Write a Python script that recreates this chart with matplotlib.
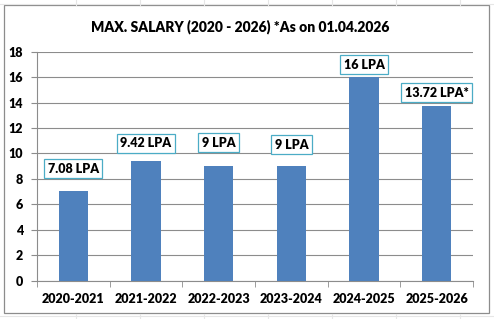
import matplotlib
matplotlib.use("Agg")
import matplotlib.pyplot as plt
from matplotlib.patches import Rectangle
from matplotlib.lines import Line2D
import numpy as np

categories = ["2020-2021", "2021-2022", "2022-2023", "2023-2024", "2024-2025", "2025-2026"]
values = [7.08, 9.42, 9, 9, 16, 13.72]
labels = ["7.08 LPA", "9.42 LPA", "9 LPA", "9 LPA", "16 LPA", "13.72 LPA*"]
title = "MAX. SALARY (2020 - 2026) *As on 01.04.2026"
yticks = [0, 2, 4, 6, 8, 10, 12, 14, 16, 18]

# layout: label box centre heights (data units)
label_y = [8.78, 10.8, 10.85, 10.67, 16.96, 14.78]

plt.rcParams['font.family'] = ['Lato', 'DejaVu Sans']
W, H = 494, 319
fig = plt.figure(figsize=(W/100, H/100), dpi=100)
fig.patch.set_facecolor('white')

# faint spreadsheet grid in background
for xv in [76, 140, 204, 268, 332, 396, 460]:
    fig.add_artist(Line2D([xv/W, xv/W], [1-5/H, 1], color='#e6e6e6', lw=0.8))
    fig.add_artist(Line2D([xv/W, xv/W], [0, 1-314/H], color='#e6e6e6', lw=0.8))
for yv in [4, 316]:
    fig.add_artist(Line2D([0, 1], [1-yv/H, 1-yv/H], color='#e6e6e6', lw=0.8))

# chart border box
fig.add_artist(Rectangle((4/W, 1-313/H), 485/W, 308/H, transform=fig.transFigure,
                         facecolor='white', edgecolor='#8c8c8c', lw=0.9, zorder=0))

W_BOLD = 'heavy'
ax = fig.add_axes([37/W, 1-280.7/H, 436/W, 229/H])
x = np.arange(len(categories))
ax.bar(x, values, width=0.4, color='#4f81bd', zorder=3)
ax.set_xlim(-0.5, len(categories)-0.5)
ax.set_ylim(0, 18)
ax.set_yticks(yticks)
ax.set_yticklabels([str(t) for t in yticks], fontsize=9, fontweight=W_BOLD)
ax.set_xticks(x)
ax.set_xticklabels(categories, fontsize=9, fontweight=W_BOLD)
ax.set_xticks(np.arange(-0.5, len(categories)), minor=True)
ax.tick_params(axis='x', which='major', length=0, pad=9)
ax.tick_params(axis='x', which='minor', length=4, color='#8c8c8c')
ax.tick_params(axis='y', length=4, color='#8c8c8c', pad=6)
ax.yaxis.grid(True, color='#8c8c8c', lw=0.8, zorder=0)
ax.set_axisbelow(True)
for s in ['top', 'right']:
    ax.spines[s].set_visible(False)
for s in ['left', 'bottom']:
    ax.spines[s].set_color('#8c8c8c')
    ax.spines[s].set_linewidth(0.8)

for xi, ly, lab in zip(x, label_y, labels):
    ax.text(xi, ly, lab, ha='center', va='center', fontsize=9, fontweight=W_BOLD,
            zorder=5,
            bbox=dict(boxstyle='square,pad=0.28', facecolor='white', edgecolor='#4bacc6', lw=0.9))

fig.text(0.486, 1-27/H, title, ha='center', va='center', fontsize=10, fontweight=W_BOLD)

fig.savefig('out.png', dpi=100, facecolor='white')
